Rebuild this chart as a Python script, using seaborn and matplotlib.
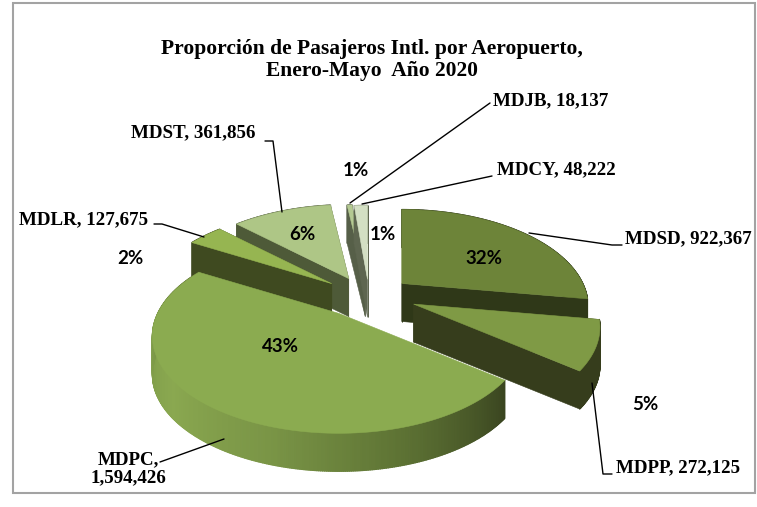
import numpy as np
import matplotlib
matplotlib.use("Agg")
import matplotlib.pyplot as plt
import seaborn as sns
from matplotlib.patches import Polygon, Rectangle
from matplotlib.collections import PolyCollection

# ------------------------
# Data
# ------------------------
airports = ["MDSD", "MDPP", "MDPC", "MDLR", "MDST", "MDJB", "MDCY"]
passengers = [922367, 272125, 1594426, 127675, 361856, 18137, 48222]
pct_labels = ["32%", "5%", "43%", "2%", "6%", "1%", "1%"]

title_lines = "Proporción de Pasajeros Intl. por Aeropuerto,\nEnero-Mayo  Año 2020"

# ------------------------
# Style of the fake 3D pie
# ------------------------
explode = [0.20, 0.24, 0.28, 0.29, 0.25, 0.20, 0.19]
nudge = [(0, 0), (-2, 0), (-6, -4), (-3, 4), (-7, 3), (-6, 1), (-6, 1)]
top_colors = ["#6d8439", "#7f9a45", "#8bab50", "#96b551", "#aec686", "#b4c992", "#d3dfc3"]
wall_colors = ["#2f3818", "#363d1c", "#3a4520", "#3f4a20", "#4e5a38", "#565f48", "#5e6650"]
draw_order = [4, 5, 6, 3, 0, 2, 1]

cx, cy = 375, 295
rx, ry, persp = 181, 91.5, 0.237
depth = 38

sns.set_theme(style="white")
fig, ax = plt.subplots(figsize=(7.57, 5.07), dpi=100)
fig.subplots_adjust(0, 0, 1, 1)
ax.set_xlim(0, 757)
ax.set_ylim(507, 0)
ax.axis("off")


def project(x, y):
    d = 1 + persp * y
    return rx * x / d, -ry * y / d


# angles come from the values, clockwise from the top
shares = np.array(passengers) / sum(passengers)
edges = 90 - 360 * np.concatenate([[0], np.cumsum(shares)])

ax.add_patch(Rectangle((13, 3), 742, 490, fill=False, ec="#a3a3a3", lw=1.5))

for i in draw_order:
    t0, t1 = edges[i], edges[i + 1]
    mid = np.radians((t0 + t1) / 2)
    ax0, ay0 = project(explode[i] * np.cos(mid), explode[i] * np.sin(mid))
    ax0, ay0 = ax0 + cx + nudge[i][0], ay0 + cy + nudge[i][1]

    th = np.radians(np.linspace(t0, t1, max(int(t0 - t1) * 2, 6)))
    px, py = project(np.cos(th), np.sin(th))
    px, py = px + ax0, py + ay0

    # outer wall, one strip per step
    strips = []
    for j in range(len(px) - 1):
        strips.append([(px[j], py[j]), (px[j + 1], py[j + 1]),
                       (px[j + 1], py[j + 1] + depth), (px[j], py[j] + depth)])
    if airports[i] == "MDPC":
        ramp = sns.blend_palette(["#3a4520", "#5c7133", "#7a9546", "#8aa850", "#7d9a48", "#55652e"],
                                 len(strips))
    else:
        ramp = [wall_colors[i]] * len(strips)
    ax.add_collection(PolyCollection(strips, facecolors=ramp, edgecolors=ramp, linewidths=0.9))

    # radial walls
    for ex, ey in [(px[0], py[0]), (px[-1], py[-1])]:
        if airports[i] != "MDPC":
            ax.add_patch(Polygon([(ax0, ay0), (ex, ey), (ex, ey + depth), (ax0, ay0 + depth)],
                                 fc=wall_colors[i], ec=wall_colors[i], lw=0.4))

    # top face
    ax.add_patch(Polygon(np.vstack([[ax0, ay0], np.column_stack([px, py])]),
                         fc=top_colors[i], ec=top_colors[i], lw=0.4))

# ------------------------
# Texts
# ------------------------
serif = "Liberation Serif"
sans = "Lato"
ax.text(372, 60, title_lines, ha="center", va="center", fontsize=15.5, fontweight="bold",
        family=serif, color="black", linespacing=1.12)

label_pos = {"MDSD": (625, 239), "MDPP": (616, 468), "MDLR": (19, 220), "MDST": (131, 133),
             "MDJB": (493, 101), "MDCY": (497, 170)}
for name, val in zip(airports, passengers):
    if name in label_pos:
        x, y = label_pos[name]
        ax.text(x, y, f"{name}, {val:,}", ha="left", va="center", fontsize=13.7,
                fontweight="bold", family=serif, color="black")
ax.text(128, 469, f"MDPC,\n{passengers[2]:,}", ha="center", va="center", fontsize=13.7,
        fontweight="bold", family=serif, color="black", linespacing=1.1)

pct_pos = [(484, 258), (645, 404), (280, 346), (130, 258), (302, 234), (356, 171), (383, 235)]
for (x, y), txt in zip(pct_pos, pct_labels):
    ax.text(x, y, txt, ha="center", va="center", fontsize=13.5, fontweight="bold",
            family=sans, color="black")

leaders = [
    [(622, 245), (612, 245), (529, 233)],
    [(612, 474), (603, 474), (592, 383)],
    [(160, 462), (224, 439)],
    [(154, 224), (162, 224), (204, 237)],
    [(265, 141), (273, 141), (282, 212)],
    [(490, 103), (350, 203)],
    [(492, 176), (362, 204)],
]
for pts in leaders:
    xs, ys = zip(*pts)
    ax.plot(xs, ys, color="black", lw=1)

fig.savefig("out.png", dpi=100)
